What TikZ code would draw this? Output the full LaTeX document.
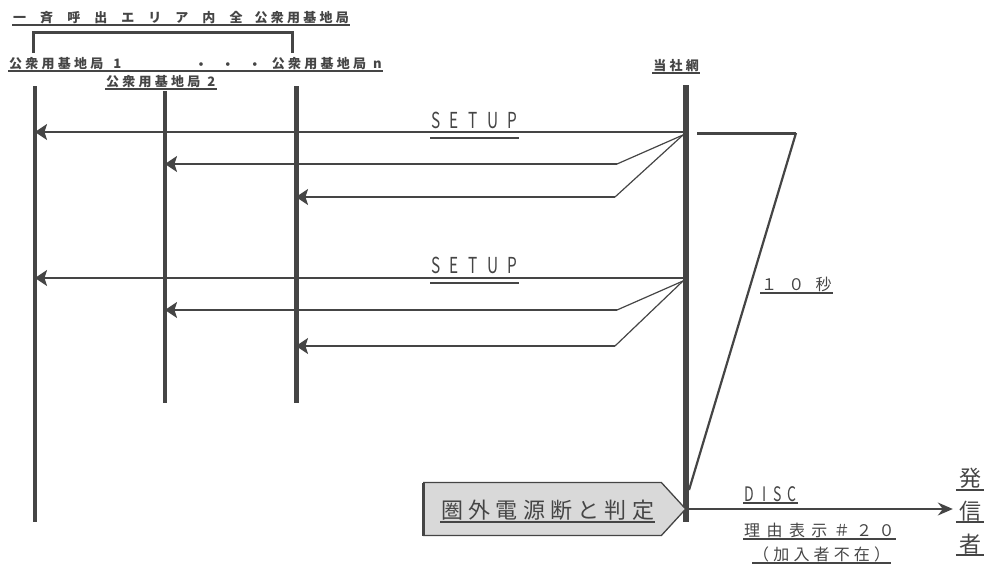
\documentclass[tikz,border=0pt]{standalone}
\usepackage{fontspec}
\setmainfont{Noto Sans CJK JP}
\usetikzlibrary{arrows.meta,positioning,shapes.symbols}
\definecolor{ink}{HTML}{454545}
\definecolor{boxfill}{HTML}{D9D9D9}
\newcommand{\ls}[1]{\addfontfeature{LetterSpace=#1}}

\begin{document}
\begin{tikzpicture}[x=1pt,y=-1pt,text=ink,
  ul/.style={inner sep=1pt,append after command={(\tikzlastnode.south west) edge[uline] (\tikzlastnode.south east)}},
  uline/.style={draw=ink,line width=1.3pt},
  lbl/.style={inner sep=1pt,font=\fontsize{13}{15}\selectfont\bfseries\ls{25}},
  latin/.style={font=\fontsize{22}{24}\selectfont\addfontfeature{FakeStretch=0.7,LetterSpace=43}},
  lifeline/.style={draw=ink,line width=3.5pt},
  msg/.style={draw=ink,line width=1.8pt,-{Stealth[length=12pt,width=16pt,inset=2.5pt]}},
  fan/.style={draw=ink,line width=1.2pt},
  disc/.style={draw=ink,line width=1.5pt,-{Stealth[length=15pt,width=13pt,inset=5pt]}}]
\useasboundingbox (0,0) rectangle (988,565);
% stations
\node[ul,anchor=south west,font=\fontsize{13}{15}\selectfont\bfseries] (arealbl) at (12,25) {{\ls{108}一斉呼出エリア内全}\hspace{12pt}{\ls{25}公衆用基地局}};
\draw[ink,line width=3pt] (33,53) -- (33,32) -- (292,32) -- (292,53);
\node[lbl,anchor=south west] (bs1lbl) at (8,71) {公衆用基地局\hspace{10pt}1};
\node[lbl,anchor=south] (dotslbl) at (228,71) {・\hspace{14pt}・\hspace{14pt}・};
\node[lbl,anchor=south east] (bsnlbl) at (383,71) {公衆用基地局\hspace{7pt}n};
\draw[uline] (bs1lbl.south west) -- (bsnlbl.south east);
\node[lbl,ul,anchor=south west] (bs2lbl) at (105,89) {公衆用基地局\hspace{7pt}2};
\node[lbl,ul,anchor=south] (netlbl) at (676,73) {当社網};
\coordinate (bs1top) at (35,86); \coordinate (bs1end) at (35,522);
\coordinate (bs2top) at (165,91); \coordinate (bs2end) at (165,403);
\coordinate (bsntop) at (296,86); \coordinate (bsnend) at (296,403);
\coordinate (nettop) at (686,85); \coordinate (netend) at (686,522);
\draw[lifeline] (bs1top) -- (bs1end);
\draw[lifeline] (bs2top) -- (bs2end);
\draw[lifeline,line width=5pt] (bsntop) -- (bsnend);
\draw[lifeline,line width=5.5pt] (nettop) -- (netend);
% SETUP 1
\coordinate (s1) at (684,132); \coordinate (f1) at (683,135);
\coordinate (k12) at (617,164); \coordinate (k13) at (615,197);
\draw[msg] (s1) -- (s1 -| bs1top);
\draw[fan] (f1) -- (k12); \draw[msg] (k12) -- (k12 -| bs2top);
\draw[fan] (f1) -- (k13); \draw[msg] (k13) -- (k13 -| bsntop);
\node[ul,latin,text depth=8pt,anchor=south west] (setup1) at (430,138) {SETUP};
% SETUP 2
\coordinate (s2) at (684,278); \coordinate (f2) at (683,281);
\coordinate (k22) at (617,310); \coordinate (k23) at (615,346);
\draw[msg] (s2) -- (s2 -| bs1top);
\draw[fan] (f2) -- (k22); \draw[msg] (k22) -- (k22 -| bs2top);
\draw[fan] (f2) -- (k23); \draw[msg] (k23) -- (k23 -| bsntop);
\node[ul,latin,text depth=8pt,anchor=south west] (setup2) at (430,283) {SETUP};
% timer
\coordinate (t0) at (697,133); \coordinate (t1) at (796,133); \coordinate (t2) at (689,490);
\draw[ink,line width=3pt] (t0) -- (t1);
\draw[ink,line width=2.2pt] (t1) -- (t2);
\node[ul,anchor=south west,font=\fontsize{16}{18}\selectfont\ls{70}] (tenlbl) at (760,293) {１０秒};
% judgement and DISC
\node[signal,signal to=east,signal pointer angle=95,draw=ink,fill=boxfill,line width=1.3pt,
  minimum width=262pt,minimum height=53pt,inner sep=0pt,anchor=west] (judge) at (423,509) {};
\draw[ink,line width=3pt] ([yshift=26.5pt]judge.west) -- ([yshift=-26.5pt]judge.west);
\node[ul,anchor=south west,font=\fontsize{22}{24}\selectfont\ls{24}] (judgetxt) at (440,522) {圏外電源断と判定};
\node[ul,inner xsep=3pt,anchor=south,font=\fontsize{22}{24}\selectfont] (caller1) at (970,490) {発};
\node[ul,inner xsep=3pt,anchor=south,font=\fontsize{22}{24}\selectfont] (caller2) at (970,522) {信};
\node[ul,inner xsep=3pt,anchor=south,font=\fontsize{22}{24}\selectfont] (caller3) at (970,555) {者};
\draw[disc,shorten >=3pt] (judge.east) -- (judge.east -| caller2.west);
\node[ul,latin,font=\fontsize{20}{22}\selectfont\addfontfeature{FakeStretch=0.7,LetterSpace=30},anchor=south west] (disclbl) at (743,503) {D ISC};
\node[ul,anchor=south west,font=\fontsize{16}{18}\selectfont\ls{40}] (reasonlbl) at (743,539) {理由表示＃２０};
\node[ul,anchor=south west,font=\fontsize{16}{18}\selectfont\ls{26}] (absentlbl) at (752,563) {（加入者不在）};
\end{tikzpicture}
\end{document}
